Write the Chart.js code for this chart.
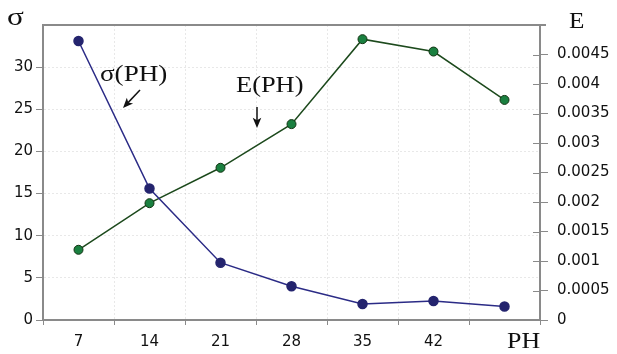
<!DOCTYPE html>
<html>
<head>
<meta charset="utf-8">
<script src="https://cdn.jsdelivr.net/npm/chart.js@4/dist/chart.umd.min.js"></script>
<style>
  html, body { margin: 0; padding: 0; background: #fff; }
  #wrap { width: 617px; height: 354px; }
</style>
</head>
<body>
<div id="wrap"><canvas id="chart" width="617" height="354"></canvas></div>
<script>
// Donnees
const phLabels = ['7', '14', '21', '28', '35', '42', '49'];
const sigmaValues = [33.1, 15.6, 6.8, 4.0, 1.9, 2.25, 1.6];
const eValues = [0.00119, 0.00198, 0.00258, 0.00332, 0.00476, 0.00455, 0.00373];
const sigmaTicks = [0, 5, 10, 15, 20, 25, 30];
const eTicks = [0, 0.0005, 0.001, 0.0015, 0.002, 0.0025, 0.003, 0.0035, 0.004, 0.0045];

const axisColor = '#8a8a8a';
const gridColor = 'rgba(0,0,0,0.09)';
const sans = 'DejaVu Sans, Arial, sans-serif';
const serif = 'Liberation Serif, Times New Roman, serif';

// Textes et fleches dessines par dessus
const annotations = {
    id: 'annotations',
    afterDraw(chart) {
        const c = chart.ctx;
        const area = chart.chartArea;
        const yE = chart.scales.yE;
        c.save();
        // bord superieur
        c.strokeStyle = axisColor;
        c.lineWidth = 2;
        c.beginPath();
        c.moveTo(area.left, area.top);
        c.lineTo(area.right + 6, area.top);
        c.stroke();

        // graduations de droite qui traversent l'axe
        c.lineWidth = 1;
        eTicks.forEach(v => {
            const y = Math.round(yE.getPixelForValue(v)) + 0.5;
            c.beginPath();
            c.moveTo(area.right - 7, y);
            c.lineTo(area.right, y);
            c.stroke();
        });

        // texte serif un peu elargi comme sur l'original
        function label(txt, x, y, size, sx) {
            c.save();
            c.translate(x, y);
            c.scale(sx, 1);
            c.font = size + 'px ' + serif;
            c.fillText(txt, 0, 0);
            c.restore();
        }
        c.fillStyle = '#111';
        c.textBaseline = 'middle';
        c.textAlign = 'left';
        label('σ', 7, 18, 26, 1.2);
        label('E', 569, 22, 24, 1.05);
        label('σ(PH)', 100, 75, 24, 1.13);
        label('E(PH)', 236, 86, 24, 1.1);
        label('PH', 507, 342, 24, 1.08);

        // fleches
        function arrow(x1, y1, x2, y2) {
            const a = Math.atan2(y2 - y1, x2 - x1);
            const h = 11;
            c.strokeStyle = '#111';
            c.lineWidth = 1.5;
            c.beginPath();
            c.moveTo(x1, y1);
            c.lineTo(x2 - Math.cos(a) * 6, y2 - Math.sin(a) * 6);
            c.stroke();
            c.beginPath();
            c.moveTo(x2, y2);
            c.lineTo(x2 - h * Math.cos(a - 0.4), y2 - h * Math.sin(a - 0.4));
            c.lineTo(x2 - h * 0.7 * Math.cos(a), y2 - h * 0.7 * Math.sin(a));
            c.lineTo(x2 - h * Math.cos(a + 0.4), y2 - h * Math.sin(a + 0.4));
            c.closePath();
            c.fill();
        }
        arrow(140, 90, 123, 108);
        arrow(257, 107, 257, 128);
        c.restore();
    }
};

new Chart(document.getElementById('chart'), {
    type: 'line',
    data: {
        labels: phLabels,
        datasets: [
            {
                label: 'σ(PH)',
                data: sigmaValues,
                yAxisID: 'ySigma',
                borderColor: '#2b2b86',
                borderWidth: 1.5,
                pointBackgroundColor: '#24246e',
                pointBorderColor: '#24246e',
                pointRadius: 4.5,
                tension: 0
            },
            {
                label: 'E(PH)',
                data: eValues,
                yAxisID: 'yE',
                borderColor: '#1d4a1d',
                borderWidth: 1.5,
                pointBackgroundColor: '#1a8040',
                pointBorderColor: '#123312',
                pointBorderWidth: 1,
                pointRadius: 4.5,
                tension: 0
            }
        ]
    },
    options: {
        responsive: false,
        animation: false,
        layout: { padding: { top: 25, left: 0, right: 0, bottom: 0 } },
        plugins: {
            legend: { display: false },
            tooltip: { enabled: false }
        },
        scales: {
            x: {
                type: 'category',
                offset: true,
                grid: { color: gridColor, tickLength: 5, offset: true, tickColor: axisColor },
                border: { color: axisColor, width: 2, dash: [2, 2] },
                ticks: {
                    color: '#111',
                    font: { family: sans, size: 15 },
                    padding: 8,
                    callback: (v, i) => (i < 6 ? phLabels[i] : '')
                },
                afterFit: s => { s.height = 34; }
            },
            ySigma: {
                position: 'left',
                min: 0,
                max: 35,
                afterBuildTicks: s => { s.ticks = sigmaTicks.map(v => ({ value: v })); },
                grid: { color: gridColor, tickLength: 7, tickColor: axisColor },
                border: { color: axisColor, width: 2, dash: [2, 2] },
                ticks: {
                    color: '#111',
                    font: { family: sans, size: 15 },
                    padding: 3
                },
                afterFit: s => { s.width = 43; }
            },
            yE: {
                position: 'right',
                min: 0,
                max: 0.005,
                afterBuildTicks: s => { s.ticks = eTicks.map(v => ({ value: v })); },
                grid: { drawOnChartArea: false, tickLength: 8, tickColor: axisColor },
                border: { color: axisColor, width: 2 },
                ticks: {
                    color: '#111',
                    font: { family: sans, size: 15 },
                    padding: 9,
                    callback: v => String(v)
                },
                afterFit: s => { s.width = 77; }
            }
        }
    },
    plugins: [annotations]
});
</script>
</body>
</html>
